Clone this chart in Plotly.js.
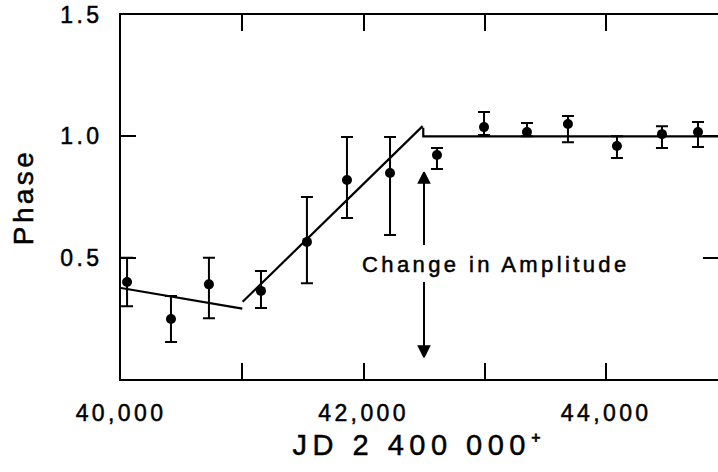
<!DOCTYPE html>
<html>
<head>
<meta charset="utf-8">
<script src="https://cdn.plot.ly/plotly-3.0.1.min.js"></script>
<style>
  html, body { margin: 0; padding: 0; background: #fff; }
  #chart { width: 718px; height: 472px; }
  svg text { letter-spacing: 3.4px; stroke: #000; stroke-width: 0.5px; }
  svg .xtitle { letter-spacing: 5.5px; }
</style>
</head>
<body>
<div id="chart"></div>
<script>
// Observations (JD - 2 400 000, phase) with asymmetric error bars
const jd        = [40050, 40412, 40725, 41154, 41533, 41863, 42218, 42605, 42993, 43347, 43685, 44089, 44460, 44757];
const phase     = [0.400, 0.247, 0.390, 0.363, 0.565, 0.820, 0.849, 0.923, 1.038, 1.018, 1.051, 0.960, 1.009, 1.018];
const errPlus   = [0.100, 0.095, 0.110, 0.082, 0.185, 0.177, 0.148, 0.029, 0.062, 0.037, 0.033, 0.040, 0.033, 0.041];
const errMinus  = [0.100, 0.095, 0.140, 0.070, 0.170, 0.157, 0.256, 0.058, 0.033, 0.018, 0.075, 0.049, 0.057, 0.062];

// Fitted line segments
const fit1X = [40000, 41000];
const fit1Y = [0.375, 0.290];
const fit2X = [41003, 42487];
const fit2Y = [0.318, 1.042];
const fit3X = [42492, 42492, 44922];
const fit3Y = [1.035, 1.000, 1.000];

// Amplitude-change marker (double arrow, broken by the label)
const changeJD = 42498;
const arrowUpY = [0.552, 0.853];
const arrowDownY = [0.400, 0.090];
const changeLabel = "Change in Amplitude";
const labelX = 43090, labelY = 0.47;

// Axis ticks
const xRange = [40000, 44922];
const yRange = [0, 1.5];
const xMajorVals = [40000, 42000, 44000];
const xMajorText = ["40,000", "42,000", "44,000"];
const xMinorVals = [41000, 43000];
const xAllVals = [40000, 41000, 42000, 43000, 44000];
const yTickVals = [0.5, 1.0, 1.5];
const yTickText = ["0.5", "1.0", "1.5"];
const yRightVals = [0.5, 1.0];

const lineStyle = {color: "#000", width: 2.2};
const FONT = "Liberation Sans, Arial, sans-serif";

const arrowMarker = (sym) => ({symbol: sym, size: [0, 11], color: "#000", opacity: 1,
                               line: {color: "#000", width: 1.6}});

const traces = [
  {x: fit1X, y: fit1Y, mode: "lines", line: lineStyle, hoverinfo: "skip"},
  {x: fit2X, y: fit2Y, mode: "lines", line: lineStyle, hoverinfo: "skip"},
  {x: fit3X, y: fit3Y, mode: "lines", line: lineStyle, hoverinfo: "skip"},
  {x: [changeJD, changeJD], y: arrowUpY, mode: "lines+markers", line: {color: "#000", width: 2},
   marker: arrowMarker("arrow-up"), hoverinfo: "skip"},
  {x: [changeJD, changeJD], y: arrowDownY, mode: "lines+markers", line: {color: "#000", width: 2},
   marker: arrowMarker("arrow-down"), hoverinfo: "skip"},
  {
    x: jd, y: phase, mode: "markers",
    marker: {color: "#000", size: 10},
    error_y: {type: "data", symmetric: false, array: errPlus, arrayminus: errMinus,
              color: "#000", thickness: 2, width: 6}
  },
  {x: [xRange[0]], y: [yRange[0]], xaxis: "x2", yaxis: "y2", mode: "markers", marker: {opacity: 0}, hoverinfo: "skip"}
];

const tickStyle = {ticks: "inside", tickwidth: 2, tickcolor: "#000"};

const layout = {
  width: 718, height: 472,
  margin: {l: 121, r: 0, t: 15, b: 93},
  paper_bgcolor: "#fff", plot_bgcolor: "#fff",
  showlegend: false,
  font: {family: FONT, color: "#000", size: 23},
  xaxis: Object.assign({}, tickStyle, {
    range: xRange,
    tickmode: "array", tickvals: xMajorVals, ticktext: xMajorText, ticklen: 16,
    minor: {tickmode: "array", tickvals: xMinorVals, ticks: "inside", ticklen: 16, tickwidth: 2, tickcolor: "#000", showgrid: false},
    showline: true, linecolor: "#000", linewidth: 2,
    showgrid: false, zeroline: false,
    ticklabelstandoff: 12,
    tickfont: {family: FONT, size: 23, color: "#000"},
    title: {text: "JD 2 400 000\u207A", font: {family: FONT, size: 29, color: "#000"}, standoff: 10}
  }),
  xaxis2: Object.assign({}, tickStyle, {
    overlaying: "x", side: "top", range: xRange, anchor: "y",
    tickmode: "array", tickvals: xAllVals, ticklen: 16,
    showticklabels: false, showline: true, linecolor: "#000", linewidth: 2,
    showgrid: false, zeroline: false
  }),
  yaxis: Object.assign({}, tickStyle, {
    range: yRange,
    tickmode: "array", tickvals: yTickVals, ticktext: yTickText, ticklen: 15,
    showline: true, linecolor: "#000", linewidth: 2,
    showgrid: false, zeroline: false,
    ticklabelstandoff: 12,
    tickfont: {family: FONT, size: 23, color: "#000"},
    title: {text: "Phase", font: {family: FONT, size: 28, color: "#000"}, standoff: 18}
  }),
  yaxis2: Object.assign({}, tickStyle, {
    overlaying: "y", side: "right", range: yRange, anchor: "x",
    tickmode: "array", tickvals: yRightVals, ticklen: 15,
    showticklabels: false, showline: false, showgrid: false, zeroline: false
  }),
  annotations: [
    {x: labelX, y: labelY, xref: "x", yref: "y", text: changeLabel, showarrow: false,
     font: {family: FONT, size: 22, color: "#000"}}
  ]
};

Plotly.newPlot("chart", traces, layout, {staticPlot: true, displayModeBar: false});
</script>
</body>
</html>
